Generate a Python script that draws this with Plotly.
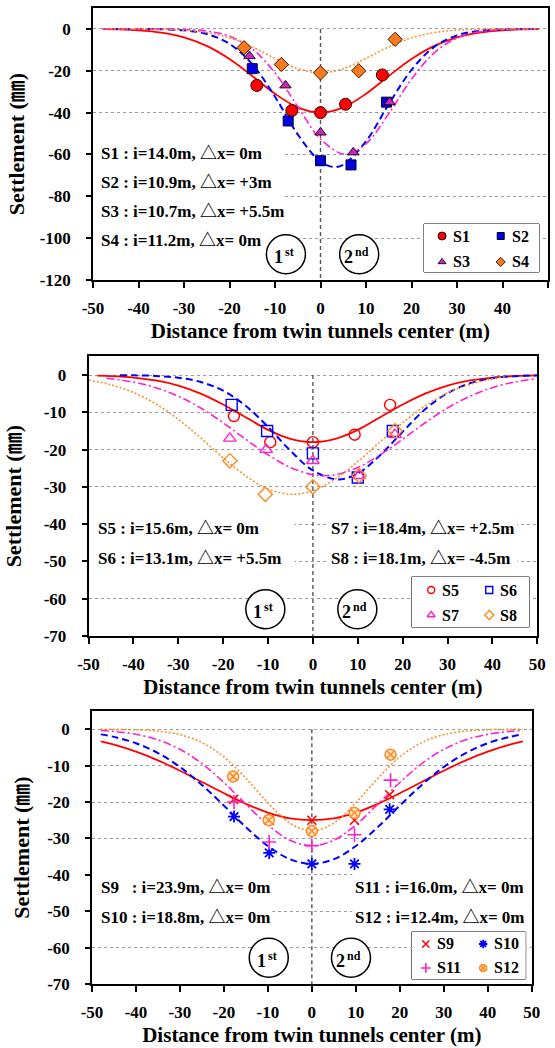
import plotly.graph_objects as go

SERIF = "Liberation Serif, Noto Sans CJK KR, DejaVu Serif"

# ---------------- tick labels ----------------
X_TICKS = [-50, -40, -30, -20, -10, 0, 10, 20, 30, 40, 50]
X_TICK_LABELS = ["-50", "-40", "-30", "-20", "-10", "0", "10", "20", "30", "40", "50"]
Y1_TICKS = [0, -20, -40, -60, -80, -100, -120]
Y1_TICK_LABELS = ["0", "-20", "-40", "-60", "-80", "-100", "-120"]
Y23_TICKS = [0, -10, -20, -30, -40, -50, -60, -70]
Y23_TICK_LABELS = ["0", "-10", "-20", "-30", "-40", "-50", "-60", "-70"]

# ---------------- panel 1: measured points ----------------
S1_X = [-14.0, -6.3, 0.0, 5.5, 13.6]
S1_Y = [-27, -39, -40, -36, -22]
S2_X = [-15.0, -7.1, 0.0, 6.7, 14.5]
S2_Y = [-19, -44, -63, -65, -35]
S3_X = [-15.6, -7.7, 0.0, 7.2, 15.2]
S3_Y = [-13, -27, -49.5, -59, -35]
S4_X = [-16.8, -8.6, 0.0, 8.4, 16.4]
S4_Y = [-9, -17, -21, -20, -5]

# ---------------- panel 1: fitted curves ----------------
FIT1_X = [-48, -45, -40, -35, -30, -25, -20, -15, -10, -5, 0, 5, 10, 15, 20, 25, 30, 35, 40, 45, 48]
S1_FIT = [-0.11, -0.23, -0.68, -1.76, -4.03, -8.12, -14.4, -22.5, -31.0, -37.5, -40.0,
          -37.5, -31.0, -22.5, -14.4, -8.12, -4.03, -1.76, -0.68, -0.23, -0.11]
S2_FIT_X = [-48, -45, -40, -35, -30, -25, -20, -15, -10, -5, 0, 3, 5, 10, 15, 20, 25, 30, 35, 40, 45, 48]
S2_FIT = [0.0, 0.0, -0.03, -0.15, -0.67, -2.43, -7.13, -16.9, -32.4, -50.4, -63.5, -66.0,
          -64.9, -53.7, -36.0, -19.6, -8.6, -3.07, -0.89, -0.21, -0.04, -0.01]
S3_FIT_X = [-48, -45, -40, -35, -30, -25, -20, -15, -10, -5, 0, 5.5, 10, 15, 20, 25, 30, 35, 40, 45, 48]
S3_FIT = [0.0, 0.0, 0.0, -0.05, -0.25, -1.03, -3.5, -9.6, -21.0, -37.1, -52.6, -60.0,
          -54.9, -40.5, -24.0, -11.4, -4.36, -1.34, -0.33, -0.07, -0.02]
S4_FIT = [0.0, -0.01, -0.04, -0.16, -0.58, -1.74, -4.27, -8.57, -14.1, -19.0, -21.0,
          -19.0, -14.1, -8.57, -4.27, -1.74, -0.58, -0.16, -0.04, -0.01, 0.0]

# ---------------- panel 2: measured points ----------------
S5_X = [-17.6, -9.5, 0.0, 9.3, 17.2]
S5_Y = [-11, -18, -18, -16, -8]
S6_X = [-18.1, -10.2, 0.0, 10.0, 17.8]
S6_Y = [-8, -15, -21, -27.5, -15]
S7_X = [-18.5, -10.4, 0.0, 10.3, 18.3]
S7_Y = [-17, -20, -23, -27, -16]
S8_X = [-18.5, -10.6, 0.0, 10.3, 18.3]
S8_Y = [-23, -32, -30, -27, -15]

# ---------------- panel 2: fitted curves ----------------
S5_FIT_X = [-48, -45, -40, -35, -30, -25, -20, -15, -10, -5, 0, 5, 10, 15, 20, 25, 30, 35, 40, 45, 50]
S5_FIT = [-0.16, -0.28, -0.67, -1.45, -2.83, -4.98, -7.91, -11.3, -14.7, -17.1, -18.0,
          -17.1, -14.7, -11.3, -7.91, -4.98, -2.83, -1.45, -0.67, -0.28, -0.1]
S6_FIT_X = [-43, -40, -35, -30, -25, -20, -15, -10, -5, 0, 5.5, 10, 15, 20, 25, 30, 35, 40, 45, 50]
S6_FIT = [-0.03, -0.07, -0.24, -0.71, -1.86, -4.2, -8.22, -13.9, -20.3, -25.6, -28.0,
          -26.4, -21.5, -15.2, -9.2, -4.88, -2.22, -0.87, -0.3, -0.09]
S7_FIT_X = [-46, -40, -35, -30, -25, -20, -15, -10, -5, 0, 2.5, 5, 10, 15, 20, 25, 30, 35, 40, 45, 50]
S7_FIT = [-0.84, -1.87, -3.38, -5.67, -8.84, -12.8, -17.2, -21.4, -24.8, -26.75, -27.0,
          -26.75, -24.8, -21.4, -17.2, -12.8, -8.84, -5.67, -3.38, -1.87, -0.96]
S8_FIT_X = [-50, -45, -40, -35, -30, -25, -20, -15, -10, -4.5, 0, 5, 10, 15, 20, 25, 30, 35, 40, 43]
S8_FIT = [-1.36, -2.62, -4.68, -7.74, -11.9, -16.85, -22.2, -27.0, -30.6, -32.0, -31.0,
          -27.9, -23.2, -17.9, -12.8, -8.3, -4.8, -2.5, -1.0, -0.4]

# ---------------- panel 3: measured points ----------------
S9_X = [-17.8, -9.7, 0.0, 9.7, 17.7]
S9_Y = [-19.3, -25, -25, -25, -18]
S10_X = [-17.7, -9.7, 0.0, 9.7, 17.7]
S10_Y = [-24, -34, -37, -37, -22]
S11_X = [-17.7, -9.7, 0.0, 9.7, 17.9]
S11_Y = [-20, -31, -32, -29, -14]
S12_X = [-17.9, -9.8, 0.0, 9.7, 17.9]
S12_Y = [-13, -25, -28, -23, -7]

# ---------------- panel 3: fitted curves ----------------
FIT3_X = [-48, -45, -40, -35, -30, -25, -20, -15, -10, -5, 0, 5, 10, 15, 20, 25, 30, 35, 40, 45, 48]
S9_FIT = [-3.33, -4.25, -6.16, -8.55, -11.4, -14.5, -17.6, -20.5, -22.9, -24.5, -25.0,
          -24.5, -22.9, -20.5, -17.6, -14.5, -11.4, -8.55, -6.16, -4.25, -3.33]
S10_FIT = [-1.42, -2.11, -3.85, -6.54, -10.4, -15.3, -21.0, -26.9, -32.1, -35.7, -37.0,
           -35.7, -32.1, -26.9, -21.0, -15.3, -10.4, -6.54, -3.85, -2.11, -1.42]
S11_FIT = [-0.36, -0.61, -1.41, -2.92, -5.52, -9.44, -14.65, -20.6, -26.3, -30.5, -32.0,
           -30.5, -26.3, -20.6, -14.65, -9.44, -5.52, -2.92, -1.41, -0.61, -0.36]
S12_FIT = [-0.02, -0.04, -0.15, -0.52, -1.5, -3.67, -7.62, -13.5, -20.2, -25.8, -28.0,
           -25.8, -20.2, -13.5, -7.62, -3.67, -1.5, -0.52, -0.15, -0.04, -0.02]

# ---------------- annotation texts ----------------
P1_TEXT = ["S1 : i=14.0m, △x= 0m", "S2 : i=10.9m, △x= +3m",
           "S3 : i=10.7m, △x= +5.5m", "S4 : i=11.2m, △x= 0m"]
P2_TEXT_L = ["S5 : i=15.6m, △x= 0m", "S6 : i=13.1m, △x= +5.5m"]
P2_TEXT_R = ["S7 : i=18.4m, △x= +2.5m", "S8 : i=18.1m, △x= -4.5m"]
P3_TEXT_L = ["S9\u00a0\u00a0\u00a0: i=23.9m, △x= 0m", "S10 : i=18.8m, △x= 0m"]
P3_TEXT_R = ["S11 : i=16.0m, △x= 0m", "S12 : i=12.4m, △x= 0m"]
TUNNEL_LABELS = [("1", "st"), ("2", "nd")]

RED = "#FF0000"
BLUE = "#0000FF"
MAG = "#FF22CC"
ORG = "#FF8A1E"

# marker styles: name -> (symbol, size, fill, line colour, line width)
STYLE = {
    "S1": ("circle", 12, RED, "#300000", 1),
    "S2": ("square", 10, "#0000E0", "#000030", 1),
    "S3": ("triangle-up", 10, "#C02CB8", "#300030", 1),
    "S4": ("diamond", 11, "#FF7A1A", "#301800", 1),
    "S5": ("circle-open", 11, RED, RED, 1.4),
    "S6": ("square-open", 11, BLUE, BLUE, 1.4),
    "S7": ("triangle-up-open", 11, MAG, MAG, 1.4),
    "S8": ("diamond-open", 11, ORG, ORG, 1.4),
    "S9": ("x-thin", 9, RED, RED, 1.6),
    "S10": ("asterisk", 10, BLUE, BLUE, 1.8),
    "S11": ("cross-thin", 10, MAG, MAG, 1.6),
    "S12": ("circle-x", 11, "#FFE4C8", ORG, 1.5),
}

fig = go.Figure()


def curve(xs, ys, color, dash, width, ax):
    fig.add_trace(go.Scatter(
        x=xs, y=ys, mode="lines",
        line=dict(color=color, dash=dash, width=width, shape="spline", smoothing=1.0),
        showlegend=False, hoverinfo="skip", xaxis="x" + ax, yaxis="y" + ax))


def points(xs, ys, name, ax):
    sym, size, fill, lc, lw = STYLE[name]
    fig.add_trace(go.Scatter(
        x=xs, y=ys, mode="markers", name=name, showlegend=False,
        marker=dict(symbol=sym, size=size, color=fill, line=dict(color=lc, width=lw)),
        xaxis="x" + ax, yaxis="y" + ax))


DASH_B = "7px,4px"
DASH_M = "8px,3px,2px,3px"
DOT_O = "2px,2px"

# panel 1
curve(FIT1_X, S1_FIT, RED, "solid", 1.8, "")
curve(S2_FIT_X, S2_FIT, BLUE, DASH_B, 2.0, "")
curve(S3_FIT_X, S3_FIT, MAG, DASH_M, 1.6, "")
curve(FIT1_X, S4_FIT, ORG, DOT_O, 1.5, "")
points(S1_X, S1_Y, "S1", "")
points(S2_X, S2_Y, "S2", "")
points(S3_X, S3_Y, "S3", "")
points(S4_X, S4_Y, "S4", "")

# panel 2
curve(S5_FIT_X, S5_FIT, RED, "solid", 1.8, "2")
curve(S6_FIT_X, S6_FIT, BLUE, DASH_B, 2.0, "2")
curve(S7_FIT_X, S7_FIT, MAG, DASH_M, 1.6, "2")
curve(S8_FIT_X, S8_FIT, ORG, DOT_O, 1.5, "2")
points(S5_X, S5_Y, "S5", "2")
points(S6_X, S6_Y, "S6", "2")
points(S7_X, S7_Y, "S7", "2")
points(S8_X, S8_Y, "S8", "2")

# panel 3
curve(FIT3_X, S9_FIT, RED, "solid", 1.8, "3")
curve(FIT3_X, S10_FIT, BLUE, DASH_B, 2.0, "3")
curve(FIT3_X, S11_FIT, MAG, DASH_M, 1.6, "3")
curve(FIT3_X, S12_FIT, ORG, DOT_O, 1.5, "3")
points(S9_X, S9_Y, "S9", "3")
points(S10_X, S10_Y, "S10", "3")
points(S11_X, S11_Y, "S11", "3")
points(S12_X, S12_Y, "S12", "3")

W, H = 555, 1048
DOMAINS = {
    "": ([93 / W, 548 / W], [1 - 280 / H, 1 - 8 / H], [-120, 10], Y1_TICKS, Y1_TICK_LABELS, 9),
    "2": ([88.5 / W, 537.3 / W], [1 - 636 / H, 1 - 356.4 / H], [-70, 5], Y23_TICKS, Y23_TICK_LABELS, 16),
    "3": ([92 / W, 531.7 / W], [1 - 984 / H, 1 - 711 / H], [-70, 5], Y23_TICKS, Y23_TICK_LABELS, 11),
}

tickfont = dict(family=SERIF, size=17, color="black", weight="bold")
layout = dict(width=W, height=H, margin=dict(l=0, r=0, t=0, b=0, autoexpand=False),
              paper_bgcolor="white", plot_bgcolor="white", showlegend=False)

for ax, (xd, yd, yr, yt, ytl, ystand) in DOMAINS.items():
    layout["xaxis" + ax] = dict(
        domain=xd, range=[-50, 50], anchor="y" + ax, automargin=False,
        tickvals=X_TICKS, ticktext=X_TICK_LABELS, ticks="outside", ticklen=6, tickwidth=1.5,
        tickcolor="black", showline=True, linewidth=1.5, linecolor="black", mirror=True,
        showgrid=False, zeroline=False, tickfont=tickfont, ticklabelstandoff=6,
        title=dict(text="Distance from twin tunnels center (m)",
                   font=dict(family=SERIF, size=21, color="black", weight="bold"), standoff=6))
    layout["yaxis" + ax] = dict(
        domain=yd, range=yr, anchor="x" + ax, automargin=False,
        tickvals=yt, ticktext=ytl, ticks="outside", ticklen=5, tickwidth=1.5,
        tickcolor="black", showline=True, linewidth=1.5, linecolor="black", mirror=True,
        showgrid=True, gridcolor="#9C9C9C", gridwidth=1, griddash="dot",
        zeroline=False, tickfont=tickfont, ticklabelstandoff=12,
        title=dict(text="Settlement (㎜)",
                   font=dict(family=SERIF, size=22, color="black", weight="bold"), standoff=ystand))

shapes = []
annotations = []

# white text boxes (cover gridlines)
for ax, x0, x1, y0, y1 in [("", -50, -7.8, -106.7, -53.5),
                            ("2", -50, -4.1, -52.8, -36.7), ("2", 3.4, 45.5, -52.8, -36.7),
                            ("3", -50, -9.0, -55.1, -39.2), ("3", 9.2, 50, -55.1, -39.2)]:
    shapes.append(dict(type="rect", xref="x" + ax, yref="y" + ax, x0=x0, x1=x1, y0=y0, y1=y1,
                       fillcolor="white", line=dict(width=0), layer="between"))

# ---- legend boxes: hidden unit axis pair covering each box ----
LEGENDS = [
    ("4", (424, 539, 224, 272), [("S1", 0.157, 0.75), ("S2", 0.667, 0.75),
                                 ("S3", 0.157, 0.21), ("S4", 0.667, 0.21)], 0.078),
    ("5", (411.7, 529.2, 577, 627), [("S5", 0.166, 0.74), ("S6", 0.660, 0.74),
                                     ("S7", 0.166, 0.24), ("S8", 0.660, 0.24)], 0.075),
    ("6", (411.7, 525.7, 932, 979), [("S9", 0.124, 0.745), ("S10", 0.627, 0.745),
                                     ("S11", 0.124, 0.235), ("S12", 0.627, 0.235)], 0.08),
]
for ax, (bx0, bx1, by0, by1), items, tgap in LEGENDS:
    layout["xaxis" + ax] = dict(domain=[bx0 / W, bx1 / W], range=[0, 1], visible=False,
                                fixedrange=True, anchor="y" + ax, automargin=False)
    layout["yaxis" + ax] = dict(domain=[1 - by1 / H, 1 - by0 / H], range=[0, 1], visible=False,
                                fixedrange=True, anchor="x" + ax, automargin=False)
    shapes.append(dict(type="rect", xref="paper", yref="paper", x0=bx0 / W, x1=bx1 / W,
                       y0=1 - by1 / H, y1=1 - by0 / H, fillcolor="white",
                       line=dict(color="black", width=1), layer="between"))
    for name, lx, ly in items:
        sym, size, fill, lc, lw = STYLE[name]
        fig.add_trace(go.Scatter(
            x=[lx], y=[ly], mode="markers", showlegend=False, hoverinfo="skip",
            marker=dict(symbol=sym, size=max(size - 4, 7), color=fill,
                        line=dict(color=lc, width=lw)),
            xaxis="x" + ax, yaxis="y" + ax))
        annotations.append(dict(xref="x" + ax, yref="y" + ax, x=lx + tgap, y=ly, text=name,
                                showarrow=False, xanchor="left", yanchor="middle",
                                font=dict(family=SERIF, size=16, color="black", weight="bold")))

# x = 0 dashed line
for ax, ybot in [("", -120), ("2", -70), ("3", -70)]:
    shapes.append(dict(type="line", xref="x" + ax, yref="y" + ax, x0=0, x1=0, y0=0, y1=ybot,
                       line=dict(color="#555555", width=1.4, dash="4px,3px"), layer="between"))

# tunnel circles
CIRCLES = [("", -7.6, -107.7, 0), ("", 8.5, -107.7, 1),
           ("2", -10.6, -62.8, 0), ("2", 9.9, -62.8, 1),
           ("3", -9.8, -62.8, 0), ("3", 8.9, -62.8, 1)]
for ax, cx, cy, k in CIRCLES:
    shapes.append(dict(type="circle", xref="x" + ax, yref="y" + ax, xsizemode="pixel",
                       ysizemode="pixel", xanchor=cx, yanchor=cy, x0=-19.5, x1=19.5, y0=-19.5,
                       y1=19.5, fillcolor="white", line=dict(color="black", width=1.5),
                       layer="between"))
    digit, suffix = TUNNEL_LABELS[k]
    annotations.append(dict(xref="x" + ax, yref="y" + ax, x=cx, y=cy, text=digit,
                            showarrow=False, xanchor="right", yanchor="middle",
                            xshift=-1 if k == 0 else -4, yshift=-3,
                            font=dict(family=SERIF, size=18, color="black", weight="bold")))
    annotations.append(dict(xref="x" + ax, yref="y" + ax, x=cx, y=cy, text=suffix,
                            showarrow=False, xanchor="left", yanchor="middle",
                            xshift=-3 if k == 0 else -6, yshift=2,
                            font=dict(family=SERIF, size=12, color="black", weight="bold")))

txtfont = dict(family=SERIF, size=17, color="black", weight="bold")
for t, y in zip(P1_TEXT, [-59.5, -73.4, -87.2, -101.0]):
    annotations.append(dict(xref="x", yref="y", x=-48.7, y=y, text=t, showarrow=False,
                            xanchor="left", yanchor="middle", font=txtfont))
for tl, tr, y in zip(P2_TEXT_L, P2_TEXT_R, [-41.1, -49.2]):
    annotations.append(dict(xref="x2", yref="y2", x=-48.4, y=y, text=tl, showarrow=False,
                            xanchor="left", yanchor="middle", font=txtfont))
    annotations.append(dict(xref="x2", yref="y2", x=3.65, y=y, text=tr, showarrow=False,
                            xanchor="left", yanchor="middle", font=txtfont))
for tl, tr, y in zip(P3_TEXT_L, P3_TEXT_R, [-43.6, -51.6]):
    annotations.append(dict(xref="x3", yref="y3", x=-48.3, y=y, text=tl, showarrow=False,
                            xanchor="left", yanchor="middle", font=txtfont))
    annotations.append(dict(xref="x3", yref="y3", x=9.25, y=y, text=tr, showarrow=False,
                            xanchor="left", yanchor="middle", font=txtfont))

layout["shapes"] = shapes
layout["annotations"] = annotations
fig.update_layout(**layout)
fig.write_html(
    "out.html",
    post_script="document.body.style.margin='0';document.body.style.padding='0';"
                "document.documentElement.style.overflow='hidden';")
